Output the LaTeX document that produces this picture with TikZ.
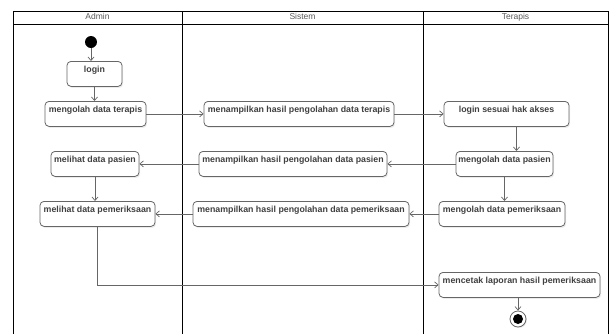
\documentclass[tikz,border=0pt]{standalone}
\usepackage{fontspec}
\setmainfont{Liberation Sans}
\usetikzlibrary{arrows.meta,shadows}
\begin{document}
\begin{tikzpicture}[x=1pt, y=-1pt,
  act/.style={draw=black!60, line width=0.8pt, rounded corners=4pt, fill=white,
    font=\fontsize{8.8}{10}\selectfont\bfseries, text=black!75,
    inner xsep=1pt, inner ysep=0pt, text height=11.5pt, text depth=13.5pt, anchor=north,
    drop shadow={shadow xshift=1.2pt, shadow yshift=-1.5pt, fill=black!15}},
  flow/.style={draw=black!60, line width=0.7pt, -{Straight Barb[length=3.5pt, width=6pt]}},
  lane/.style={font=\fontsize{8.5}{10}\selectfont, text=black!65, inner sep=0pt,
    text height=6.5pt, text depth=2pt}]
\useasboundingbox (0,0) rectangle (614,333);
\draw[line width=0.9pt] (13,335) -- (13,11) -- (608,11) -- (608,335)
  (13,24) -- (608,24) (182,11) -- (182,335) (423,11) -- (423,335);
\node[lane] (admin) at (97.5,17.5) {Admin};
\node[lane] (sistem) at (302.5,17.5) {Sistem};
\node[lane] (terapis) at (515.5,17.5) {Terapis};
\node[circle, fill=black, minimum size=12pt, inner sep=0pt] (start) at (91,42) {};
\node[act, minimum width=55pt] (login) at (94.5,61) {login};
\node[act, minimum width=101pt] (olahterapis) at (95.5,101) {mengolah data terapis};
\node[act, minimum width=190pt] (tampilterapis) at (299,101) {menampilkan hasil pengolahan data terapis};
\node[act, minimum width=125pt] (loginakses) at (506.5,101) {login sesuai hak akses};
\node[act, minimum width=88pt] (lihatpasien) at (95,151) {melihat data pasien};
\node[act, minimum width=188pt] (tampilpasien) at (293,151) {menampilkan hasil pengolahan data pasien};
\node[act, minimum width=97pt] (olahpasien) at (504.5,151) {mengolah data pasien};
\node[act, minimum width=115pt] (lihatperiksa) at (97.5,201) {melihat data pemeriksaan};
\node[act, minimum width=216pt] (tampilperiksa) at (301,201) {menampilkan hasil pengolahan data pemeriksaan};
\node[act, minimum width=126pt] (olahperiksa) at (502,201) {mengolah data pemeriksaan};
\node[act, minimum width=161pt] (cetak) at (519.5,272) {mencetak laporan hasil pemeriksaan};
\node[circle, draw=black!60, line width=0.8pt, fill=white, minimum size=16pt, inner sep=0pt,
  drop shadow={shadow xshift=1pt, shadow yshift=-1pt, fill=black!15}] (stop) at (518,319) {};
\node[circle, fill=black, minimum size=10pt, inner sep=0pt] (stopdot) at (stop) {};
\draw[flow] (start) -- (start |- login.north);
\draw[flow] (login) -- (login |- olahterapis.north);
\draw[flow] (olahterapis.east) -- (tampilterapis.west);
\draw[flow] (tampilterapis.east) -- (loginakses.west);
\draw[flow] ([xshift=10pt]loginakses.south) -- ([xshift=10pt]loginakses.south |- olahpasien.north);
\draw[flow] (olahpasien.west) -- (tampilpasien.east);
\draw[flow] (tampilpasien.west) -- (lihatpasien.east);
\draw[flow] (lihatpasien) -- (lihatpasien |- lihatperiksa.north);
\draw[flow] (olahpasien) -- (olahpasien |- olahperiksa.north);
\draw[flow] (olahperiksa.west) -- (tampilperiksa.east);
\draw[flow] (tampilperiksa.west) -- (lihatperiksa.east);
\draw[flow] (lihatperiksa.south) |- (cetak.west);
\draw[flow] (cetak.south -| stop) -- (stop);
\end{tikzpicture}
\end{document}
